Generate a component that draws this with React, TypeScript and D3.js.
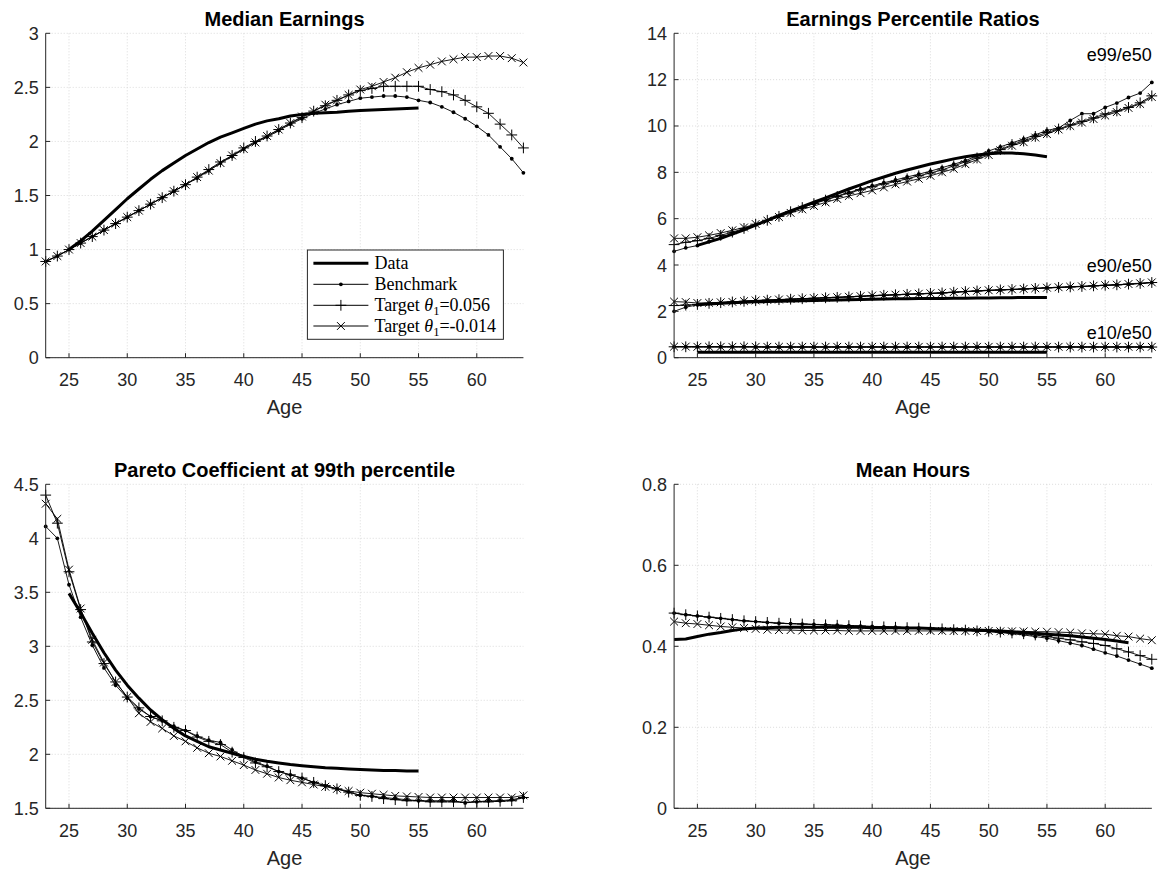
import React from "react";
import * as d3 from "d3";

// ---------- categories ----------
const AGES = [23, 24, 25, 26, 27, 28, 29, 30, 31, 32, 33, 34, 35, 36, 37, 38, 39, 40, 41, 42, 43, 44, 45, 46, 47, 48, 49, 50, 51, 52, 53, 54, 55, 56, 57, 58, 59, 60, 61, 62, 63, 64];
const DATA_AGES = AGES.slice(2, 33); // 25..55
const HOURS_DATA_AGES = AGES.slice(0, 40); // 23..62
const X_TICKS = [25, 30, 35, 40, 45, 50, 55, 60];

// ---------- Median earnings ----------
const MED_DATA = [1.00, 1.08, 1.17, 1.27, 1.37, 1.47, 1.56, 1.65, 1.73, 1.80, 1.87, 1.93, 1.99, 2.04, 2.08, 2.12, 2.16, 2.19, 2.21, 2.235, 2.25, 2.26, 2.265, 2.27, 2.28, 2.285, 2.29, 2.295, 2.30, 2.305, 2.31];
const MED_BENCH = [0.89, 0.94, 1.00, 1.06, 1.12, 1.18, 1.24, 1.30, 1.36, 1.42, 1.48, 1.54, 1.60, 1.66, 1.73, 1.80, 1.86, 1.93, 1.99, 2.04, 2.10, 2.16, 2.21, 2.26, 2.30, 2.34, 2.37, 2.40, 2.41, 2.42, 2.42, 2.41, 2.38, 2.36, 2.32, 2.27, 2.21, 2.14, 2.06, 1.95, 1.84, 1.71];
const MED_PLUS = [0.89, 0.94, 1.00, 1.06, 1.12, 1.18, 1.24, 1.30, 1.36, 1.42, 1.48, 1.54, 1.60, 1.67, 1.74, 1.81, 1.87, 1.94, 2.00, 2.05, 2.11, 2.17, 2.22, 2.28, 2.33, 2.38, 2.43, 2.47, 2.49, 2.51, 2.51, 2.51, 2.51, 2.48, 2.46, 2.43, 2.38, 2.32, 2.26, 2.16, 2.06, 1.94];
const MED_CROSS = [0.89, 0.94, 1.00, 1.06, 1.12, 1.18, 1.24, 1.30, 1.36, 1.42, 1.48, 1.54, 1.60, 1.67, 1.73, 1.80, 1.87, 1.93, 1.99, 2.05, 2.11, 2.17, 2.23, 2.28, 2.34, 2.38, 2.43, 2.48, 2.51, 2.55, 2.59, 2.64, 2.68, 2.71, 2.74, 2.76, 2.78, 2.78, 2.79, 2.79, 2.77, 2.73];

// ---------- Percentile ratios ----------
const E99_DATA = [4.85, 5.00, 5.15, 5.33, 5.52, 5.72, 5.93, 6.14, 6.34, 6.52, 6.71, 6.90, 7.09, 7.28, 7.46, 7.64, 7.80, 7.96, 8.10, 8.23, 8.36, 8.47, 8.58, 8.67, 8.75, 8.80, 8.83, 8.83, 8.80, 8.75, 8.67];
const E99_BENCH = [4.59, 4.74, 4.84, 5.02, 5.18, 5.36, 5.55, 5.74, 5.92, 6.10, 6.30, 6.48, 6.66, 6.82, 6.98, 7.13, 7.28, 7.42, 7.55, 7.67, 7.80, 7.92, 8.05, 8.20, 8.35, 8.50, 8.72, 8.92, 9.10, 9.27, 9.44, 9.62, 9.81, 9.91, 10.24, 10.53, 10.53, 10.80, 10.99, 11.23, 11.42, 11.88];
const E99_PLUS = [4.88, 4.98, 5.05, 5.15, 5.28, 5.42, 5.58, 5.76, 5.93, 6.10, 6.30, 6.48, 6.65, 6.80, 6.96, 7.10, 7.25, 7.38, 7.50, 7.60, 7.72, 7.85, 7.97, 8.10, 8.28, 8.45, 8.62, 8.80, 8.98, 9.20, 9.35, 9.55, 9.72, 9.87, 10.05, 10.20, 10.35, 10.52, 10.65, 10.80, 11.00, 11.30];
const E99_CROSS = [5.15, 5.15, 5.20, 5.28, 5.38, 5.50, 5.62, 5.77, 5.92, 6.07, 6.25, 6.40, 6.55, 6.70, 6.85, 6.98, 7.10, 7.22, 7.35, 7.48, 7.60, 7.72, 7.85, 8.00, 8.15, 8.35, 8.55, 8.75, 8.95, 9.15, 9.30, 9.50, 9.65, 9.85, 10.00, 10.15, 10.30, 10.45, 10.60, 10.78, 10.95, 11.25];

const E90_DATA = [2.28, 2.32, 2.35, 2.37, 2.39, 2.41, 2.42, 2.44, 2.45, 2.46, 2.47, 2.48, 2.49, 2.50, 2.51, 2.52, 2.53, 2.54, 2.54, 2.55, 2.56, 2.56, 2.57, 2.57, 2.58, 2.58, 2.59, 2.59, 2.60, 2.60, 2.60];
const E90_BENCH = [2.00, 2.18, 2.28, 2.34, 2.37, 2.40, 2.43, 2.46, 2.48, 2.50, 2.52, 2.54, 2.56, 2.58, 2.60, 2.62, 2.645, 2.67, 2.69, 2.71, 2.73, 2.75, 2.77, 2.79, 2.82, 2.85, 2.875, 2.90, 2.92, 2.94, 2.96, 2.985, 3.01, 3.03, 3.05, 3.07, 3.095, 3.12, 3.14, 3.17, 3.20, 3.24];
const E90_PLUS = [2.25, 2.27, 2.30, 2.345, 2.375, 2.405, 2.435, 2.465, 2.485, 2.505, 2.525, 2.545, 2.565, 2.585, 2.605, 2.625, 2.65, 2.675, 2.695, 2.715, 2.735, 2.755, 2.775, 2.795, 2.825, 2.855, 2.88, 2.905, 2.925, 2.945, 2.965, 2.99, 3.015, 3.035, 3.055, 3.075, 3.10, 3.125, 3.145, 3.175, 3.205, 3.245];
const E90_CROSS = [2.42, 2.40, 2.36, 2.37, 2.39, 2.41, 2.44, 2.47, 2.49, 2.51, 2.53, 2.55, 2.57, 2.59, 2.61, 2.63, 2.655, 2.68, 2.70, 2.72, 2.74, 2.76, 2.78, 2.80, 2.83, 2.86, 2.885, 2.91, 2.93, 2.95, 2.97, 2.995, 3.02, 3.04, 3.06, 3.08, 3.105, 3.13, 3.15, 3.18, 3.21, 3.25];

const E10_DATA = [0.24, 0.24, 0.23, 0.23, 0.23, 0.23, 0.23, 0.23, 0.23, 0.23, 0.23, 0.23, 0.23, 0.23, 0.23, 0.23, 0.23, 0.23, 0.23, 0.23, 0.23, 0.23, 0.23, 0.23, 0.23, 0.23, 0.23, 0.23, 0.23, 0.23, 0.23];
const E10_BENCH = [0.47, 0.47, 0.47, 0.47, 0.47, 0.47, 0.47, 0.46, 0.46, 0.46, 0.46, 0.46, 0.46, 0.46, 0.46, 0.46, 0.46, 0.46, 0.46, 0.46, 0.46, 0.46, 0.46, 0.46, 0.46, 0.46, 0.46, 0.46, 0.46, 0.46, 0.46, 0.46, 0.46, 0.46, 0.46, 0.46, 0.46, 0.46, 0.46, 0.46, 0.46, 0.46];
const E10_PLUS = [0.47, 0.47, 0.47, 0.47, 0.47, 0.47, 0.47, 0.47, 0.46, 0.46, 0.46, 0.46, 0.46, 0.46, 0.46, 0.46, 0.46, 0.46, 0.46, 0.46, 0.46, 0.46, 0.46, 0.46, 0.46, 0.46, 0.46, 0.46, 0.46, 0.46, 0.46, 0.46, 0.46, 0.46, 0.46, 0.46, 0.46, 0.46, 0.46, 0.46, 0.46, 0.46];
const E10_CROSS = [0.48, 0.48, 0.47, 0.47, 0.47, 0.47, 0.47, 0.47, 0.47, 0.47, 0.47, 0.47, 0.47, 0.47, 0.47, 0.47, 0.47, 0.47, 0.47, 0.47, 0.47, 0.47, 0.47, 0.47, 0.47, 0.47, 0.47, 0.47, 0.47, 0.47, 0.47, 0.47, 0.47, 0.47, 0.47, 0.47, 0.47, 0.47, 0.47, 0.47, 0.47, 0.47];

// ---------- Pareto coefficient ----------
const PAR_DATA = [3.49, 3.31, 3.12, 2.94, 2.78, 2.64, 2.52, 2.41, 2.32, 2.24, 2.17, 2.12, 2.07, 2.04, 2.01, 1.98, 1.955, 1.935, 1.92, 1.905, 1.895, 1.885, 1.875, 1.87, 1.865, 1.86, 1.855, 1.85, 1.85, 1.845, 1.845];
const PAR_BENCH = [4.11, 4.00, 3.57, 3.27, 3.01, 2.80, 2.64, 2.52, 2.42, 2.35, 2.31, 2.26, 2.22, 2.17, 2.13, 2.11, 2.04, 1.98, 1.93, 1.89, 1.84, 1.81, 1.78, 1.74, 1.71, 1.68, 1.65, 1.62, 1.61, 1.60, 1.59, 1.58, 1.57, 1.57, 1.57, 1.57, 1.55, 1.56, 1.57, 1.57, 1.58, 1.60];
const PAR_PLUS = [4.40, 4.14, 3.69, 3.34, 3.04, 2.84, 2.67, 2.53, 2.43, 2.35, 2.31, 2.25, 2.22, 2.16, 2.12, 2.09, 2.02, 1.97, 1.92, 1.885, 1.84, 1.81, 1.78, 1.74, 1.71, 1.68, 1.65, 1.62, 1.61, 1.59, 1.58, 1.57, 1.57, 1.56, 1.56, 1.56, 1.555, 1.56, 1.56, 1.565, 1.57, 1.60];
const PAR_CROSS = [4.32, 4.18, 3.71, 3.35, 3.06, 2.85, 2.67, 2.53, 2.38, 2.30, 2.24, 2.17, 2.12, 2.06, 2.01, 1.98, 1.94, 1.90, 1.855, 1.82, 1.785, 1.76, 1.74, 1.72, 1.70, 1.68, 1.66, 1.645, 1.635, 1.625, 1.615, 1.61, 1.605, 1.60, 1.60, 1.60, 1.60, 1.60, 1.60, 1.60, 1.60, 1.62];

// ---------- Mean hours ----------
const HRS_DATA = [0.417, 0.418, 0.424, 0.430, 0.434, 0.439, 0.443, 0.445, 0.446, 0.447, 0.447, 0.447, 0.447, 0.447, 0.447, 0.447, 0.447, 0.446, 0.446, 0.446, 0.445, 0.445, 0.444, 0.443, 0.442, 0.441, 0.440, 0.439, 0.438, 0.436, 0.434, 0.432, 0.430, 0.428, 0.426, 0.423, 0.420, 0.417, 0.413, 0.409];
const HRS_BENCH = [0.482, 0.478, 0.475, 0.472, 0.469, 0.466, 0.463, 0.461, 0.459, 0.457, 0.456, 0.455, 0.454, 0.453, 0.452, 0.451, 0.450, 0.449, 0.448, 0.447, 0.446, 0.445, 0.444, 0.443, 0.441, 0.440, 0.438, 0.436, 0.434, 0.431, 0.428, 0.424, 0.420, 0.414, 0.408, 0.402, 0.393, 0.384, 0.376, 0.366, 0.356, 0.346];
const HRS_PLUS = [0.482, 0.478, 0.475, 0.472, 0.469, 0.466, 0.463, 0.461, 0.459, 0.457, 0.456, 0.455, 0.454, 0.453, 0.452, 0.451, 0.450, 0.449, 0.448, 0.447, 0.446, 0.445, 0.444, 0.443, 0.441, 0.440, 0.438, 0.437, 0.435, 0.433, 0.431, 0.428, 0.424, 0.420, 0.416, 0.411, 0.407, 0.402, 0.394, 0.386, 0.377, 0.368];
const HRS_CROSS = [0.461, 0.457, 0.455, 0.452, 0.449, 0.447, 0.445, 0.443, 0.441, 0.440, 0.440, 0.439, 0.439, 0.439, 0.439, 0.438, 0.438, 0.438, 0.438, 0.438, 0.438, 0.438, 0.438, 0.438, 0.438, 0.438, 0.438, 0.438, 0.437, 0.437, 0.437, 0.436, 0.436, 0.435, 0.434, 0.432, 0.431, 0.430, 0.426, 0.424, 0.419, 0.415];

// ---------- styling ----------
const SANS = "'Liberation Sans', Arial, Helvetica, sans-serif";
const SERIF = "'Liberation Serif', 'Times New Roman', serif";
const AXIS = "#262626";
const GRID = "#d2d2d2";

type Kind = "data" | "bench" | "plus" | "cross";
type Series = { kind: Kind; ages: number[]; values: number[] };
type Box = { x0: number; x1: number; y0: number; y1: number };

function Marker({ kind, cx, cy }: { kind: Kind; cx: number; cy: number }) {
  if (kind === "bench") return <circle cx={cx} cy={cy} r={1.9} fill="#000" />;
  if (kind === "plus") {
    const h = 5.4;
    return <path d={`M${cx - h},${cy}H${cx + h}M${cx},${cy - h}V${cy + h}`} stroke="#000" strokeWidth={1} fill="none" />;
  }
  if (kind === "cross") {
    const h = 3.9;
    return <path d={`M${cx - h},${cy - h}L${cx + h},${cy + h}M${cx - h},${cy + h}L${cx + h},${cy - h}`} stroke="#000" strokeWidth={1} fill="none" />;
  }
  return null;
}

function Legend({ box }: { box: Box }) {
  const left = box.x1 - 216;
  const top = box.y1 - 107.7;
  const w = 196;
  const h = 89.3;
  const rows: { kind: Kind; label: React.ReactNode }[] = [
    { kind: "data", label: "Data" },
    { kind: "bench", label: "Benchmark" },
    {
      kind: "plus",
      label: (
        <>
          {"Target "}
          <tspan fontStyle="italic">θ</tspan>
          <tspan fontSize={12.6} dy={4}>1</tspan>
          <tspan dy={-4}>=0.056</tspan>
        </>
      ),
    },
    {
      kind: "cross",
      label: (
        <>
          {"Target "}
          <tspan fontStyle="italic">θ</tspan>
          <tspan fontSize={12.6} dy={4}>1</tspan>
          <tspan dy={-4}>=-0.014</tspan>
        </>
      ),
    },
  ];
  const rowY = [13.3, 34.3, 55.3, 76];
  return (
    <g>
      <rect x={left} y={top} width={w} height={h} fill="#fff" stroke={AXIS} strokeWidth={1} />
      {rows.map((r, i) => {
        const yy = top + rowY[i];
        return (
          <g key={i}>
            <line x1={left + 6} x2={left + 61} y1={yy} y2={yy} stroke="#000" strokeWidth={r.kind === "data" ? 3 : 1} />
            <Marker kind={r.kind} cx={left + 33.5} cy={yy} />
            <text x={left + 67} y={yy + 6} fontFamily={SERIF} fontSize={18} fill="#000">
              {r.label}
            </text>
          </g>
        );
      })}
    </g>
  );
}

function Panel({
  box,
  yDomain,
  yTicks,
  title,
  series,
  notes,
  legend,
}: {
  box: Box;
  yDomain: [number, number];
  yTicks: number[];
  title: string;
  series: Series[];
  notes?: { text: string; value: number }[];
  legend?: boolean;
}) {
  const x = d3.scaleLinear().domain([23, 64]).range([box.x0, box.x1]);
  const y = d3.scaleLinear().domain(yDomain).range([box.y1, box.y0]);
  const line = d3
    .line<[number, number]>()
    .x((d) => x(d[0]))
    .y((d) => y(d[1]));
  const order: Kind[] = ["data", "bench", "plus", "cross"];
  const sorted = [...series].sort((a, b) => order.indexOf(a.kind) - order.indexOf(b.kind));
  const tickLen = 4.5;
  return (
    <g>
      {X_TICKS.map((t) => (
        <line key={"gx" + t} x1={x(t)} x2={x(t)} y1={box.y0} y2={box.y1} stroke={GRID} strokeWidth={0.8} strokeDasharray="1 2" />
      ))}
      {yTicks.map((t) => (
        <line key={"gy" + t} x1={box.x0} x2={box.x1} y1={y(t)} y2={y(t)} stroke={GRID} strokeWidth={0.8} strokeDasharray="1 2" />
      ))}
      {sorted.map((s, i) => {
        const pts = s.ages.map((a, j) => [a, s.values[j]] as [number, number]);
        return (
          <g key={"s" + i}>
            <path d={line(pts) || ""} fill="none" stroke="#000" strokeWidth={s.kind === "data" ? 3 : 0.9} strokeLinejoin="round" />
            {s.kind !== "data" && pts.map((p, j) => <Marker key={j} kind={s.kind} cx={x(p[0])} cy={y(p[1])} />)}
          </g>
        );
      })}
      <line x1={box.x0} x2={box.x1} y1={box.y1} y2={box.y1} stroke={AXIS} strokeWidth={1} />
      <line x1={box.x0} x2={box.x0} y1={box.y0} y2={box.y1} stroke={AXIS} strokeWidth={1} />
      {X_TICKS.map((t) => (
        <g key={"tx" + t}>
          <line x1={x(t)} x2={x(t)} y1={box.y1} y2={box.y1 - tickLen} stroke={AXIS} strokeWidth={1} />
          <text x={x(t)} y={box.y1 + 28.5} textAnchor="middle" fontFamily={SANS} fontSize={18} fill={AXIS}>
            {t}
          </text>
        </g>
      ))}
      {yTicks.map((t) => (
        <g key={"ty" + t}>
          <line x1={box.x0} x2={box.x0 + tickLen} y1={y(t)} y2={y(t)} stroke={AXIS} strokeWidth={1} />
          <text x={box.x0 - 7} y={y(t) + 6.5} textAnchor="end" fontFamily={SANS} fontSize={18} fill={AXIS}>
            {String(t)}
          </text>
        </g>
      ))}
      <text x={(box.x0 + box.x1) / 2} y={box.y0 - 7.5} textAnchor="middle" fontFamily={SANS} fontSize={20} fontWeight="bold" fill="#000">
        {title}
      </text>
      <text x={(box.x0 + box.x1) / 2} y={box.y1 + 56.5} textAnchor="middle" fontFamily={SANS} fontSize={20} fill={AXIS}>
        Age
      </text>
      {notes &&
        notes.map((n) => (
          <text key={n.text} x={box.x1} y={y(n.value) + 6.5} textAnchor="end" fontFamily={SANS} fontSize={18} fill="#000">
            {n.text}
          </text>
        ))}
      {legend && <Legend box={box} />}
    </g>
  );
}

const mk = (kind: Kind, values: number[], ages: number[] = AGES): Series => ({ kind, ages, values });

export default function App() {
  const boxTL: Box = { x0: 45.7, x1: 523.4, y0: 33.3, y1: 357.7 };
  const boxTR: Box = { x0: 674.1, x1: 1151.8, y0: 33.3, y1: 357.7 };
  const boxBL: Box = { x0: 45.7, x1: 523.4, y0: 484.3, y1: 808.3 };
  const boxBR: Box = { x0: 674.1, x1: 1151.8, y0: 484.3, y1: 808.3 };
  return (
    <svg width={1161} height={874} style={{ position: "absolute", left: 0, top: 0, background: "#fff" }}>
      <rect x={0} y={0} width={1161} height={874} fill="#fff" />
      <Panel
        box={boxTL}
        yDomain={[0, 3]}
        yTicks={[0, 0.5, 1, 1.5, 2, 2.5, 3]}
        title="Median Earnings"
        series={[mk("data", MED_DATA, DATA_AGES), mk("bench", MED_BENCH), mk("plus", MED_PLUS), mk("cross", MED_CROSS)]}
        legend
      />
      <Panel
        box={boxTR}
        yDomain={[0, 14]}
        yTicks={[0, 2, 4, 6, 8, 10, 12, 14]}
        title="Earnings Percentile Ratios"
        series={[
          mk("data", E99_DATA, DATA_AGES),
          mk("data", E90_DATA, DATA_AGES),
          mk("data", E10_DATA, DATA_AGES),
          mk("bench", E99_BENCH),
          mk("plus", E99_PLUS),
          mk("cross", E99_CROSS),
          mk("bench", E90_BENCH),
          mk("plus", E90_PLUS),
          mk("cross", E90_CROSS),
          mk("bench", E10_BENCH),
          mk("plus", E10_PLUS),
          mk("cross", E10_CROSS),
        ]}
        notes={[
          { text: "e99/e50", value: 13.07 },
          { text: "e90/e50", value: 3.96 },
          { text: "e10/e50", value: 1.07 },
        ]}
      />
      <Panel
        box={boxBL}
        yDomain={[1.5, 4.5]}
        yTicks={[1.5, 2, 2.5, 3, 3.5, 4, 4.5]}
        title="Pareto Coefficient at 99th percentile"
        series={[mk("data", PAR_DATA, DATA_AGES), mk("bench", PAR_BENCH), mk("plus", PAR_PLUS), mk("cross", PAR_CROSS)]}
      />
      <Panel
        box={boxBR}
        yDomain={[0, 0.8]}
        yTicks={[0, 0.2, 0.4, 0.6, 0.8]}
        title="Mean Hours"
        series={[mk("data", HRS_DATA, HOURS_DATA_AGES), mk("bench", HRS_BENCH), mk("plus", HRS_PLUS), mk("cross", HRS_CROSS)]}
      />
    </svg>
  );
}
